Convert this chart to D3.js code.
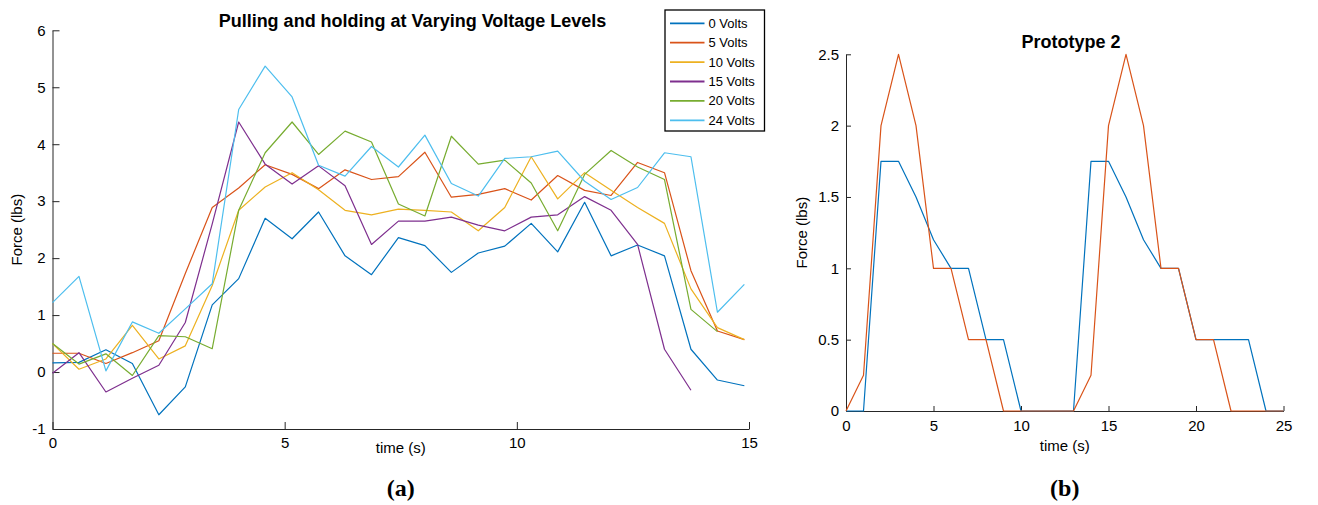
<!DOCTYPE html>
<html>
<head>
<meta charset="utf-8">
<script src="https://cdn.jsdelivr.net/npm/d3@7"></script>
<style>
	body { margin:0; background:#fff; }
	svg text { font-family:"Liberation Sans", Arial, Helvetica, sans-serif; fill:#000; }
	.axis path, .axis line { stroke:#262626; }
	.axis text { font-size:15px; fill:#000; }
	.caption { font-family:"Liberation Serif", "Times New Roman", serif !important; font-weight:bold; font-size:24px; }
</style>
</head>
<body>
<svg id="fig" width="1318" height="505"></svg>
<script>
/*************** data: (a) pulling and holding ***************/
var timeA = [0, 0.57, 1.15, 1.72, 2.29, 2.86, 3.44, 4.01, 4.58, 5.16, 5.73, 6.30, 6.87,
	7.45, 8.02, 8.59, 9.17, 9.74, 10.31, 10.88, 11.46, 12.03, 12.60, 13.18, 13.75, 14.32, 14.90];

var volts0  = [0.16, 0.17, 0.39, 0.15, -0.75, -0.26, 1.18, 1.64, 2.70, 2.34, 2.81, 2.04, 1.71,
	2.36, 2.22, 1.75, 2.09, 2.21, 2.61, 2.11, 2.98, 2.04, 2.23, 2.04, 0.40, -0.14, -0.24];
var volts5  = [0.33, 0.33, 0.15, 0.34, 0.55, 1.73, 2.89, 3.23, 3.64, 3.47, 3.22, 3.55, 3.38,
	3.43, 3.86, 3.07, 3.12, 3.22, 3.02, 3.45, 3.19, 3.10, 3.68, 3.50, 1.78, 0.72, 0.57];
var volts10 = [0.50, 0.05, 0.23, 0.82, 0.23, 0.46, 1.52, 2.84, 3.25, 3.50, 3.20, 2.84, 2.76,
	2.86, 2.84, 2.81, 2.48, 2.89, 3.78, 3.04, 3.50, 3.19, 2.89, 2.61, 1.46, 0.78, 0.57];
var volts15 = [-0.02, 0.34, -0.35, -0.11, 0.12, 0.87, 2.60, 4.39, 3.65, 3.30, 3.62, 3.27, 2.24,
	2.65, 2.65, 2.72, 2.58, 2.48, 2.72, 2.76, 3.08, 2.84, 2.24, 0.40, -0.32];
var volts20 = [0.50, 0.14, 0.32, -0.06, 0.64, 0.62, 0.41, 2.84, 3.85, 4.39, 3.82, 4.23, 4.04,
	2.95, 2.74, 4.14, 3.65, 3.72, 3.32, 2.48, 3.47, 3.89, 3.60, 3.38, 1.10, 0.71];
var volts24 = [1.22, 1.68, 0.02, 0.88, 0.68, 1.11, 1.55, 4.61, 5.37, 4.83, 3.63, 3.44, 3.96,
	3.60, 4.16, 3.31, 3.09, 3.75, 3.78, 3.88, 3.35, 3.03, 3.24, 3.85, 3.78, 1.05, 1.54];

var seriesNamesA = ["0 Volts", "5 Volts", "10 Volts", "15 Volts", "20 Volts", "24 Volts"];
var seriesA = [volts0, volts5, volts10, volts15, volts20, volts24];
var xTicksA = [0, 5, 10, 15];
var yTicksA = [-1, 0, 1, 2, 3, 4, 5, 6];

/*************** data: (b) prototype 2 ***************/
var timeB = [0, 1, 2, 3, 4, 5, 6, 7, 8, 9, 10, 11, 12, 13, 14, 15, 16, 17, 18, 19, 20, 21, 22, 23, 24, 25];
var protoBlue   = [0, 0, 1.75, 1.75, 1.5, 1.2, 1, 1, 0.5, 0.5, 0, 0, 0, 0, 1.75, 1.75, 1.5, 1.2, 1, 1, 0.5, 0.5, 0.5, 0.5, 0, 0];
var protoOrange = [0, 0.25, 2, 2.5, 2, 1, 1, 0.5, 0.5, 0, 0, 0, 0, 0, 0.25, 2, 2.5, 2, 1, 1, 0.5, 0.5, 0, 0, 0, 0];
var seriesB = [protoBlue, protoOrange];
var xTicksB = [0, 5, 10, 15, 20, 25];
var yTicksB = [0, 0.5, 1, 1.5, 2, 2.5];

// matlab default line colours
var colors = ["#0072BD", "#D95319", "#EDB120", "#7E2F8E", "#77AC30", "#4DBEEE"];

var svg = d3.select("#fig");

/*************** helper: draws one panel ***************/
function drawPanel(opt) {
	var x = d3.scaleLinear().domain(opt.xDomain).range(opt.xRange);
	var y = d3.scaleLinear().domain(opt.yDomain).range(opt.yRange);
	var g = svg.append("g");

	// axes (box off, ticks pointing in)
	g.append("g")
		.attr("class", "axis")
		.attr("transform", "translate(0," + opt.yRange[0] + ")")
		.call(d3.axisBottom(x).tickValues(opt.xTicks).tickSize(-opt.tick).tickSizeOuter(0)
			.tickPadding(opt.xPad).tickFormat(function(d) { return String(d); }));

	g.append("g")
		.attr("class", "axis")
		.attr("transform", "translate(" + opt.xRange[0] + ",0)")
		.call(d3.axisLeft(y).tickValues(opt.yTicks).tickSize(-opt.tick).tickSizeOuter(0)
			.tickPadding(7).tickFormat(function(d) { return String(d); }));

	g.selectAll(".axis .domain").attr("stroke-width", 1);

	// lines
	var line = d3.line()
		.x(function(d, i) { return x(opt.times[i]); })
		.y(function(d) { return y(d); });

	g.selectAll("path.series")
		.data(opt.series)
		.enter().append("path")
		.attr("class", "series")
		.attr("fill", "none")
		.attr("stroke", function(d, i) { return colors[i]; })
		.attr("stroke-width", 1.2)
		.attr("stroke-linejoin", "round")
		.attr("d", line);

	// titles and labels
	g.append("text")
		.attr("x", opt.titleX).attr("y", opt.titleY)
		.attr("text-anchor", "middle")
		.style("font-weight", "bold").style("font-size", "18px")
		.text(opt.title);

	g.append("text")
		.attr("x", (opt.xRange[0] + opt.xRange[1]) / 2).attr("y", opt.xLabelY)
		.attr("text-anchor", "middle").style("font-size", "15px")
		.text("time (s)");

	g.append("text")
		.attr("transform", "translate(" + opt.yLabelX + "," + (opt.yRange[0] + opt.yRange[1]) / 2 + ") rotate(-90)")
		.attr("text-anchor", "middle").style("font-size", "15px")
		.text("Force (lbs)");

	g.append("text")
		.attr("class", "caption")
		.attr("x", (opt.xRange[0] + opt.xRange[1]) / 2).attr("y", 496)
		.attr("text-anchor", "middle")
		.text(opt.caption);

	return g;
}

/*************** panel (a) ***************/
var gA = drawPanel({
	xDomain: [0, 15], xRange: [52.5, 749],
	yDomain: [-1, 6], yRange: [429, 30.3],
	xTicks: xTicksA, yTicks: yTicksA, tick: 7, xPad: 8,
	times: timeA, series: seriesA,
	title: "Pulling and holding at Varying Voltage Levels", titleX: 412.5, titleY: 27,
	xLabelY: 453, yLabelX: 22, caption: "(a)"
});

// legend
var legend = gA.append("g").attr("transform", "translate(665,10)");
legend.append("rect")
	.attr("width", 99.5).attr("height", 121)
	.attr("fill", "#fff").attr("stroke", "#000").attr("stroke-width", 1.3);

var item = legend.selectAll("g.item")
	.data(seriesNamesA)
	.enter().append("g")
	.attr("class", "item")
	.attr("transform", function(d, i) { return "translate(0," + (13.3 + i * 19.4) + ")"; });

item.append("line")
	.attr("x1", 5).attr("x2", 39.5)
	.attr("stroke", function(d, i) { return colors[i]; })
	.attr("stroke-width", 1.8);

item.append("text")
	.attr("x", 43.5).attr("dy", "0.35em")
	.style("font-size", "13px")
	.text(function(d) { return d; });

/*************** panel (b) ***************/
drawPanel({
	xDomain: [0, 25], xRange: [846, 1283.5],
	yDomain: [0, 2.5], yRange: [411, 54.3],
	xTicks: xTicksB, yTicks: yTicksB, tick: 5, xPad: 9,
	times: timeB, series: seriesB,
	title: "Prototype 2", titleX: 1071, titleY: 48,
	xLabelY: 451, yLabelX: 807, caption: "(b)"
});
</script>
</body>
</html>
